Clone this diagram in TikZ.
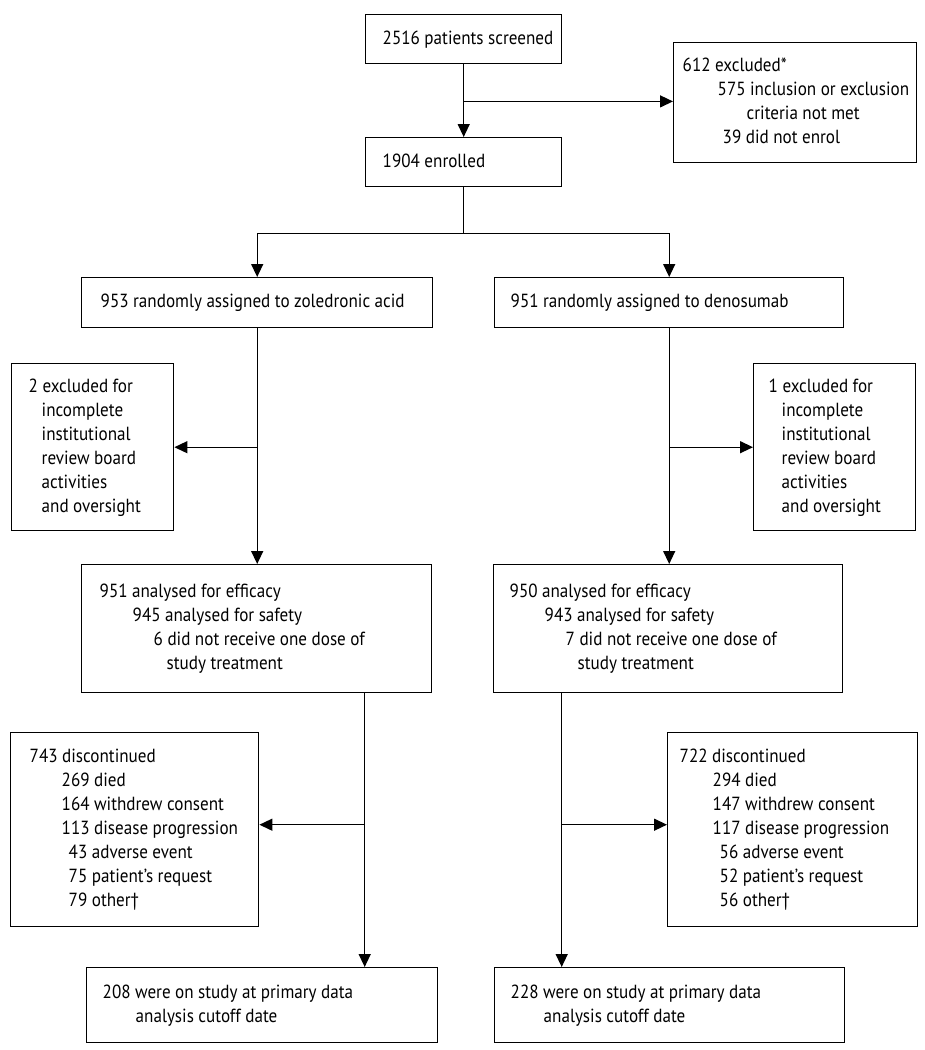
\documentclass[tikz,border=0pt]{standalone}
\usepackage{fontspec}
\setmainfont[FakeStretch=0.9]{PT Sans}
\usetikzlibrary{arrows.meta,calc}
\newcommand{\rowsof}[1]{\spaceskip=4.5pt plus 1pt\relax\begin{tabular}{@{}l@{}}#1\end{tabular}}
\begin{document}
\begin{tikzpicture}[x=1pt,y=-1pt,
  box/.style={draw, line width=1.4pt, anchor=north west, align=left, inner ysep=0pt,
    font=\fontsize{19}{24}\selectfont},
  arr/.style={line width=1.4pt, -{Triangle[length=13pt,width=12pt]}},
  ln/.style={line width=1.4pt}]
\useasboundingbox (0,0) rectangle (925,1050);

\node[box, minimum height=49pt, text width=162pt, inner xsep=17pt] (A) at (365,14) {\rowsof{2516 patients screened}};
\node[box, minimum height=49pt, text width=162pt, inner xsep=17pt] (B) at (365,137) {\rowsof{1904 enrolled}};
\node[box, minimum height=120pt, text width=225pt, inner xsep=9pt] (Ex) at (673,42)
  {\rowsof{612 excluded*\\\hspace*{35pt}575 inclusion or exclusion\\\hspace*{64pt}criteria not met\\\hspace*{40pt}39 did not enrol}};

\node[box, minimum height=50pt, text width=313pt, inner xsep=19pt] (C1) at (81,277) {\rowsof{953 randomly assigned to zoledronic acid}};
\node[box, minimum height=50pt, text width=317pt, inner xsep=16pt] (C2) at (494,277) {\rowsof{951 randomly assigned to denosumab}};

\node[box, minimum height=167pt, text width=128pt, inner xsep=17pt] (S1) at (11,363)
  {\rowsof{2 excluded for\\\hspace*{13pt}incomplete\\\hspace*{13pt}institutional\\\hspace*{13pt}review board\\\hspace*{13pt}activities\\\hspace*{13pt}and oversight}};
\node[box, minimum height=167pt, text width=132pt, inner xsep=15pt] (S2) at (753,363)
  {\rowsof{1 excluded for\\\hspace*{13pt}incomplete\\\hspace*{13pt}institutional\\\hspace*{13pt}review board\\\hspace*{13pt}activities\\\hspace*{13pt}and oversight}};

\node[box, minimum height=128pt, text width=314pt, inner xsep=18pt] (E1) at (81,564)
  {\rowsof{951 analysed for efficacy\\\hspace*{33pt}945 analysed for safety\\\hspace*{54pt}6 did not receive one dose of\\\hspace*{67pt}study treatment}};
\node[box, minimum height=128pt, text width=317pt, inner xsep=16pt] (E2) at (493,564)
  {\rowsof{950 analysed for efficacy\\\hspace*{35pt}943 analysed for safety\\\hspace*{56pt}7 did not receive one dose of\\\hspace*{68pt}study treatment}};

\node[box, minimum height=194pt, text width=210pt, inner xsep=19pt] (D1) at (10,732)
  {\rowsof{743 discontinued\\\hspace*{32pt}269 died\\\hspace*{32pt}164 withdrew consent\\\hspace*{32pt}113 disease progression\\\hspace*{39pt}43 adverse event\\\hspace*{39pt}75 patient’s request\\\hspace*{39pt}79 other†}};
\node[box, minimum height=194pt, text width=226pt, inner xsep=12pt] (D2) at (667,732)
  {\rowsof{722 discontinued\\\hspace*{33pt}294 died\\\hspace*{33pt}147 withdrew consent\\\hspace*{33pt}117 disease progression\\\hspace*{40pt}56 adverse event\\\hspace*{40pt}52 patient’s request\\\hspace*{40pt}56 other†}};

\node[box, minimum height=75pt, text width=319pt, inner xsep=16pt] (F1) at (86,967)
  {\rowsof{208 were on study at primary data\\\hspace*{33pt}analysis cutoff date}};
\node[box, minimum height=75pt, text width=318pt, inner xsep=16pt] (F2) at (494,967)
  {\rowsof{228 were on study at primary data\\\hspace*{33pt}analysis cutoff date}};

% connectors
\draw[arr] (A) -- (B);
\coordinate (j1) at ($(A.south)+(0,37)$);
\draw[arr] (j1) -- (j1 -| Ex.west);
\coordinate (j2) at ($(B.south)+(0,46)$);
\draw[ln] (B) -- (j2);
\draw[arr] (j2) -| (C1.north);
\draw[arr] (j2) -| (C2.north);

\draw[arr] (C1.south) -- (C1.south |- E1.north);
\draw[arr] (C1.south |- S1.east) -- (S1.east);
\draw[arr] (C2.south) -- (C2.south |- E2.north);
\draw[arr] (C2.south |- S2.west) -- (S2.west);

\coordinate (k1) at ([xshift=108pt]E1.south);
\coordinate (k2) at ([xshift=-106.5pt]E2.south);
\coordinate (d1) at ([yshift=5pt]D1.east);
\coordinate (d2) at ([yshift=5pt]D2.west);
\draw[arr] (k1) -- (k1 |- F1.north);
\draw[arr] (k2) -- (k2 |- F2.north);
\draw[arr] (k1 |- d1) -- (d1);
\draw[arr] (k2 |- d2) -- (d2);
\end{tikzpicture}
\end{document}
